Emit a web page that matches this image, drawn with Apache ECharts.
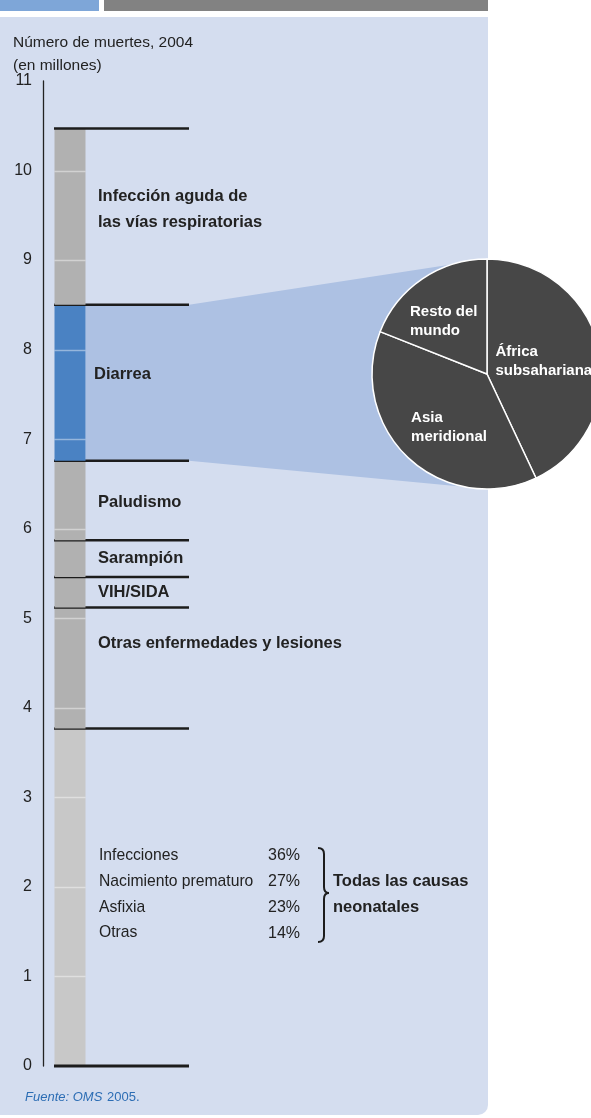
<!DOCTYPE html>
<html><head><meta charset="utf-8">
<script src="https://cdn.jsdelivr.net/npm/echarts@6/dist/echarts.min.js"></script>
<style>html,body{margin:0;padding:0;background:#fff;}#c{width:591px;height:1118px;}</style>
</head><body><div id="c"></div>
<script>
// ---- data ----
const categories = ['Todas las causas neonatales', 'Otras enfermedades y lesiones', 'VIH/SIDA', 'Sarampión', 'Paludismo', 'Diarrea', 'Infección aguda de\nlas vías respiratorias'];
const deaths = [3.77, 1.35, 0.34, 0.41, 0.89, 1.74, 1.97]; // millions, 2004
const diarrheaRegions = ['África\nsubsahariana', 'Asia\nmeridional', 'Resto del\nmundo'];
const diarrheaShares = [43, 38, 19];
const neonatalCauses = ['Infecciones', 'Nacimiento prematuro', 'Asfixia', 'Otras'];
const neonatalShares = [36, 27, 23, 14];
const yTicks = [0, 1, 2, 3, 4, 5, 6, 7, 8, 9, 10, 11];

// ---- layout / style ----
const FONT = '"Liberation Sans", Arial, sans-serif';
const TXT = '#222222';
const segColors = ['#c8c8c8', '#b1b1b1', '#b1b1b1', '#b1b1b1', '#b1b1b1', '#4a82c3', '#b1b1b1'];
const labelDy = [0, -25, 0, 0, 1.5, -8, -7.5];
const labelDx = [0, 28, 28, 28, 28, 24, 28];
const pieC = [487, 374], pieR = 115;
const diarrheaIdx = categories.indexOf('Diarrea');
const pieLabelWidths = [98, 78, 68];
const pieLabelOffsets = [[-1.6, 1], [4.5, 9.5], [-9, -3]];

let acc = 0;
const segData = deaths.map((v, i) => { const s = acc; acc += v; return [0, s, acc, i]; });

const chart = echarts.init(document.getElementById('c'), null, {renderer: 'canvas'});

function renderStack(params, api) {
  const i = api.value(3), s = api.value(1), e = api.value(2);
  const p0 = api.coord([0, s]), p1 = api.coord([0, e]);
  const cx = p0[0];
  const ch = [];
  ch.push({type: 'rect', shape: {x: cx - 15.5, y: p1[1], width: 31, height: p0[1] - p1[1]}, style: {fill: segColors[i]}});
  for (let k = Math.ceil(s); k < e; k++) {
    if (k > s + 0.05 && k < e - 0.05) {
      const y = Math.round(api.coord([0, k])[1]) + 0.5;
      ch.push({type: 'line', shape: {x1: cx - 15.5, y1: y, x2: cx + 15.5, y2: y}, style: {stroke: 'rgba(255,255,255,0.42)', lineWidth: 1.5}});
    }
  }
  ch.push({type: 'line', shape: {x1: cx - 16, y1: p1[1], x2: cx + 119, y2: p1[1]}, style: {stroke: '#1c1c1c', lineWidth: 2.5}});
  if (i === 0) {
    ch.push({type: 'line', shape: {x1: cx - 16, y1: p0[1], x2: cx + 119, y2: p0[1]}, style: {stroke: '#1c1c1c', lineWidth: 3}});
  } else {
    ch.push({type: 'text', style: {text: categories[i], x: cx + labelDx[i], y: (p0[1] + p1[1]) / 2 + labelDy[i],
      fill: TXT, fontFamily: FONT, fontSize: 16.5, fontWeight: 'bold', lineHeight: 26, align: 'left', verticalAlign: 'middle'}});
  }
  return {type: 'group', children: ch};
}

function renderWedge(params, api) {
  const s = api.value(1), e = api.value(2);
  const p0 = api.coord([0, s]), p1 = api.coord([0, e]);
  const cx = p0[0];
  return {type: 'polygon', shape: {points: [
    [cx + 15.5, p1[1]], [cx + 119, p1[1]], [pieC[0], pieC[1] - pieR],
    [pieC[0], pieC[1] + pieR], [cx + 119, p0[1]], [cx + 15.5, p0[1]]]},
    style: {fill: '#adc1e3'}};
}

const braceStyle = {stroke: '#1c1c1c', lineWidth: 2, fill: null};
const rowY0 = 856, rowStep = 25.7;
const graphics = [
  {type: 'rect', z: -10, shape: {x: 0, y: 17, width: 488, height: 1098, r: [0, 0, 10, 0]}, style: {fill: '#d4ddef'}},
  {type: 'rect', z: -10, shape: {x: 0, y: 0, width: 99, height: 11}, style: {fill: '#7ea6d8'}},
  {type: 'rect', z: -10, shape: {x: 104, y: 0, width: 384, height: 11}, style: {fill: '#828282'}},
  {type: 'text', x: 13, y: 43, style: {text: 'Número de muertes, 2004', fill: TXT, fontFamily: FONT, fontSize: 15.5, verticalAlign: 'middle'}},
  {type: 'text', x: 13, y: 66, style: {text: '(en millones)', fill: TXT, fontFamily: FONT, fontSize: 15.5, verticalAlign: 'middle'}},
  {type: 'bezierCurve', shape: {x1: 318, y1: 848, cpx1: 324, cpy1: 848, x2: 324, y2: 854}, style: braceStyle},
  {type: 'line', shape: {x1: 324, y1: 854, x2: 324, y2: 887}, style: braceStyle},
  {type: 'bezierCurve', shape: {x1: 324, y1: 887, cpx1: 324, cpy1: 893, x2: 329, y2: 893}, style: braceStyle},
  {type: 'bezierCurve', shape: {x1: 329, y1: 893, cpx1: 324, cpy1: 893, x2: 324, y2: 899}, style: braceStyle},
  {type: 'line', shape: {x1: 324, y1: 899, x2: 324, y2: 936}, style: braceStyle},
  {type: 'bezierCurve', shape: {x1: 324, y1: 936, cpx1: 324, cpy1: 942, x2: 318, y2: 942}, style: braceStyle},
  {type: 'text', x: 333, y: 881, style: {text: 'Todas las causas', fill: TXT, fontFamily: FONT, fontSize: 16.5, fontWeight: 'bold', verticalAlign: 'middle'}},
  {type: 'text', x: 333, y: 907, style: {text: 'neonatales', fill: TXT, fontFamily: FONT, fontSize: 16.5, fontWeight: 'bold', verticalAlign: 'middle'}},
  {type: 'text', x: 25, y: 1097, style: {text: 'Fuente: OMS', fill: '#2c6db4', fontFamily: FONT, fontSize: 13, fontStyle: 'italic', verticalAlign: 'middle'}},
  {type: 'text', x: 107, y: 1097, style: {text: '2005.', fill: '#2c6db4', fontFamily: FONT, fontSize: 13, verticalAlign: 'middle'}}
];
neonatalCauses.forEach((n, k) => {
  const y = rowY0 + k * rowStep;
  graphics.push({type: 'text', x: 99, y: y, style: {text: n, fill: TXT, fontFamily: FONT, fontSize: 15.7, align: 'left', verticalAlign: 'middle'}});
  graphics.push({type: 'text', x: 300, y: y, style: {text: neonatalShares[k] + '%', fill: TXT, fontFamily: FONT, fontSize: 16, align: 'right', verticalAlign: 'middle'}});
});

const option = {
  animation: false,
  backgroundColor: '#ffffff',
  grid: {left: 43, top: 81, width: 54, height: 985},
  xAxis: {type: 'category', data: ['2004'], show: false},
  yAxis: {type: 'value', min: yTicks[0], max: yTicks[yTicks.length - 1], interval: 1,
    axisLine: {show: true, lineStyle: {color: TXT, width: 1.3}}, axisTick: {show: false}, splitLine: {show: false},
    axisLabel: {margin: 11, color: TXT, fontSize: 16, fontFamily: FONT}},
  graphic: graphics,
  series: [
    {type: 'custom', clip: false, data: [segData[diarrheaIdx]], encode: {x: 0, y: 2}, renderItem: renderWedge, z: 1, silent: true},
    {type: 'pie', center: pieC, radius: pieR, startAngle: 90, clockwise: true, z: 3, silent: true,
      itemStyle: {color: '#474747', borderColor: '#ffffff', borderWidth: 1.5},
      label: {show: true, position: 'inside', color: '#ffffff', fontFamily: FONT, fontSize: 15, fontWeight: 'bold', lineHeight: 19},
      labelLine: {show: false}, emphasis: {disabled: true},
      data: diarrheaRegions.map((n, k) => ({name: n, value: diarrheaShares[k], label: {
        offset: pieLabelOffsets[k],
        formatter: n.split('\n').map(t => '{t|' + t + '}').join('\n'),
        rich: {t: {width: pieLabelWidths[k], align: 'left', color: '#ffffff', fontFamily: FONT, fontSize: 15, fontWeight: 'bold', lineHeight: 19}}
      }}))},
    {type: 'custom', clip: false, data: segData, encode: {x: 0, y: 2}, renderItem: renderStack, z: 2, silent: true}
  ]
};
chart.setOption(option);
</script></body></html>
